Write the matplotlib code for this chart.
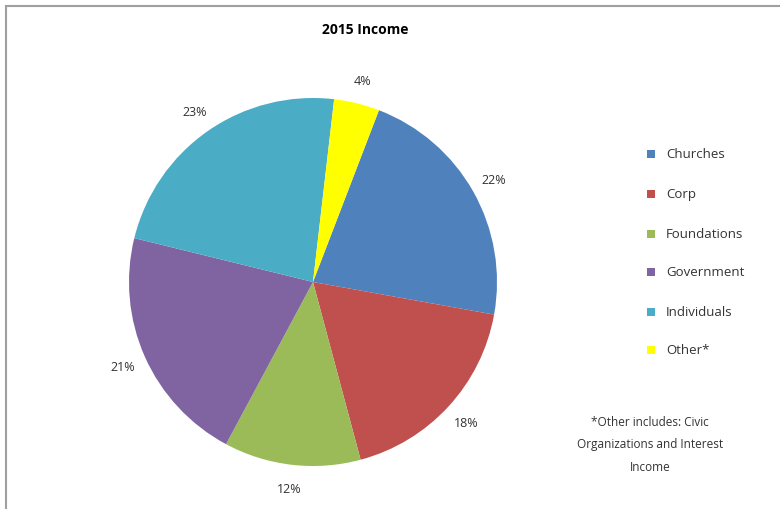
import matplotlib.pyplot as plt
from matplotlib.patches import Rectangle

plt.rcParams['font.family'] = ['Open Sans', 'DejaVu Sans']

categories = ['Churches', 'Corp', 'Foundations', 'Government', 'Individuals', 'Other*']
shares = [22, 18, 12, 21, 23, 4]
colors = ['#4F81BD', '#C0504D', '#9BBB59', '#8064A2', '#4BACC6', '#FFFF00']

W, H = 780, 510
fig = plt.figure(figsize=(7.8, 5.1), dpi=100)
fig.patch.set_facecolor('white')

# chart frame (top-left corner visible, rest runs off the picture)
fig.patches.append(Rectangle((6 / W, -0.05), 1.0, 1 - 7 / H + 0.05,
                             transform=fig.transFigure, fill=False,
                             edgecolor='#A0A0A0', linewidth=1.5))

# pie axes: centre (313, 283), radius ~184 px
r = 184
cx, cy = 313, 283
ax = fig.add_axes([(cx - r) / W, 1 - (cy + r) / H, 2 * r / W, 2 * r / H])
wedges, texts, autotexts = ax.pie(
    shares, colors=colors, startangle=69, counterclock=False,
    autopct='%d%%', pctdistance=1.13, radius=1.0,
    wedgeprops=dict(linewidth=0),
    textprops=dict(fontsize=9, color='#333333'))
ax.set_xlim(-1, 1)
ax.set_ylim(-1, 1)
ax.set_aspect('auto')

fig.text(365 / W, 1 - 30 / H, '2015 Income', ha='center', va='center',
         fontsize=10, fontweight='bold', color='black')

# legend
leg_y = [155, 195, 235, 273, 313, 351]
for lbl, col, y in zip(categories, colors, leg_y):
    fig.patches.append(Rectangle((647 / W, 1 - (y + 4) / H), 8 / W, 8 / H,
                                 transform=fig.transFigure, facecolor=col,
                                 edgecolor='none'))
    fig.text(666 / W, 1 - y / H, lbl, ha='left', va='center',
             fontsize=9.5, color='#333333')

fig.text(650 / W, 1 - 445 / H,
         '*Other includes: Civic\nOrganizations and Interest\nIncome',
         ha='center', va='center', fontsize=8.5, color='#333333',
         linespacing=1.95)

fig.savefig('out.png', dpi=100, facecolor='white')
